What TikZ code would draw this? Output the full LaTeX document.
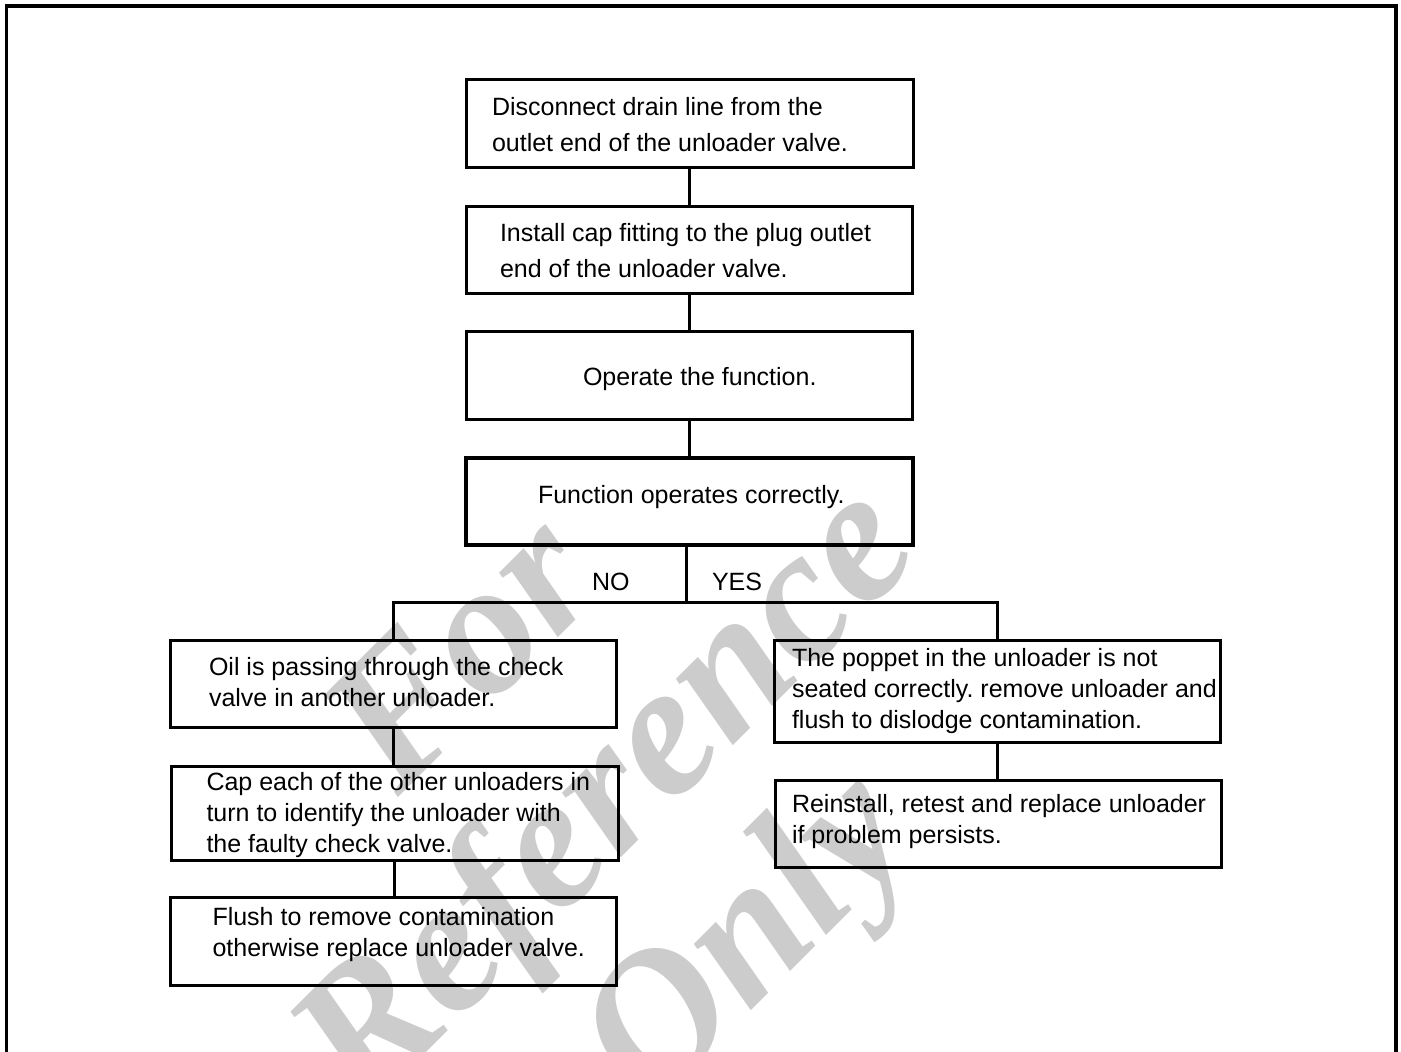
\documentclass[tikz,border=0pt]{standalone}
\usepackage{fontspec}
\setmainfont{Liberation Sans}
\newfontfamily\wmfont{Liberation Serif}
\usetikzlibrary{fit}
\frenchspacing
\newcommand\fsTop{\fontsize{12.5pt}{18pt}\selectfont}
\newcommand\fsLow{\fontsize{12.5pt}{15.5pt}\selectfont}
\newcommand\tst{\rule{0pt}{0.73em}}
\begin{document}
\frenchspacing
\begin{tikzpicture}[x=0.5pt,y=-0.5pt,
  box/.style={draw, line width=1.5pt, rectangle, inner sep=0pt, outer sep=0pt},
  boxthick/.style={box, line width=2pt},
  txt/.style={inner sep=0pt, outer sep=0pt, align=left, anchor=north west},
  lbl/.style={inner sep=0pt, outer sep=0pt, anchor=base west, font=\fsTop},
  conn/.style={line width=1.5pt},
  wm/.style={text=black!20, font=\wmfont\bfseries\itshape\fontsize{95pt}{100pt}\selectfont, align=center, rotate=45, inner sep=0pt}
]
\useasboundingbox (0,0) rectangle (1401,1051);
\fill[white] (0,0) rectangle (1401,1051);

% watermark
\node[wm] (wmark) at (615,805) {For\\Reference\\Only};

% outer frame
\draw[line width=1.75pt] (6.5,1060) -- (6.5,6) -- (1396,6) -- (1396,1060);

% boxes
\node[box, fit={(466.5,79) (913,167)}] (b1) {};
\node[box, fit={(466,206) (912,293)}] (b2) {};
\node[box, fit={(466,331) (912,419)}] (b3) {};
\node[boxthick, fit={(466,457.5) (913,545)}] (b4) {};
\node[box, fit={(170,640) (616,727.5)}] (l1) {};
\node[box, fit={(171.5,766) (618,860)}] (l2) {};
\node[box, fit={(170.5,897) (616.5,985)}] (l3) {};
\node[box, fit={(774,640) (1220,742)}] (r1) {};
\node[box, fit={(775.5,780) (1221.5,867)}] (r2) {};

% texts
\node[txt, font=\fsTop] (t1) at (492,{115.5-18.25}) {\tst Disconnect drain line from the\\outlet end of the unloader valve.};
\node[txt, font=\fsTop] (t2) at (500,{241-18.25}) {\tst Install cap fitting to the plug outlet\\end of the unloader valve.};
\node[txt, font=\fsTop] (t3) at (583,{385-18.25}) {\tst Operate the function.};
\node[txt, font=\fsTop] (t4) at (538,{503-18.25}) {\tst Function operates correctly.};
\node[txt, font=\fsLow] (tl1) at (209,{675-18.25}) {\tst Oil is passing through the check\\valve in another unloader.};
\node[txt, font=\fsLow] (tl2) at (206.5,{790-18.25}) {\tst Cap each of the other unloaders in\\turn to identify the unloader with\\the faulty check valve.};
\node[txt, font=\fsLow] (tl3) at (212.5,{925-18.25}) {\tst Flush to remove contamination\\otherwise replace unloader valve.};
\node[txt, font=\fsLow] (tr1) at (792,{666-18.25}) {\tst The poppet in the unloader is not\\seated correctly. remove unloader and\\flush to dislodge contamination.};
\node[txt, font=\fsLow] (tr2) at (792,{812.5-18.25}) {\tst Reinstall, retest and replace unloader\\if problem persists.};

\node[lbl] (no) at (592,590) {NO};
\node[lbl] (yes) at (712,590) {YES};

% connectors
\coordinate (j) at (686.7,602.5);
\draw[conn] (b1.south) -- (b1.south |- b2.north);
\draw[conn] (b2.south) -- (b2.south |- b3.north);
\draw[conn] (b3.south) -- (b3.south |- b4.north);
\draw[conn] (b4.south -| j) -- (j);
\draw[conn] (l1.north) -- (l1.north |- j) -- (r1.north |- j) -- (r1.north);
\draw[conn] (l1.south) -- (l1.south |- l2.north);
\draw[conn] (l2.south) -- (l2.south |- l3.north);
\draw[conn] (r1.south) -- (r1.south |- r2.north);
\end{tikzpicture}
\end{document}
